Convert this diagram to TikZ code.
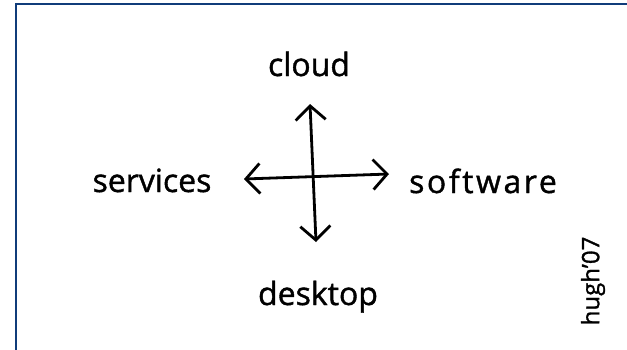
\documentclass[tikz,border=0pt]{standalone}
\usepackage{fontspec}
\setmainfont{Open Sans}[FakeBold=1.2]
\usetikzlibrary{arrows.meta}
\definecolor{framenavy}{RGB}{16,60,122}
\tikzset{
  word/.style={inner sep=0pt, anchor=base, font=\fontsize{32}{36}\selectfont},
  sig/.style={inner sep=0pt, rotate=90, font=\fontsize{24}{28}\selectfont},
  axis/.style={line width=2.8pt, line cap=round,
    {Straight Barb[length=14pt,width=30pt]}-{Straight Barb[length=14pt,width=30pt]}},
  frame/.style={draw=framenavy, line width=2.6pt}
}
\begin{document}
\begin{tikzpicture}[x=1pt,y=-1pt]
  % canvas
  \fill[white] (0,0) rectangle (627,349);
  \useasboundingbox (0,0) rectangle (627,349);
  % frame, only the left and top edges show
  \draw[frame] (16,351) -- (16,4) -- (629,4);

  % labels
  \node[word] (cloud)    at (309,76)  {cloud};
  \node[word] (services) at (152,192) {services};
  \node[word] (software) at (483,193) {\addfontfeature{LetterSpace=8}software};
  \node[word] (desktop)  at (318,305) {desktop};

  % axis end points
  \coordinate (up)    at (310,104);
  \coordinate (down)  at (316,242);
  \coordinate (left)  at (244,179);
  \coordinate (right) at (389,174);

  \draw[axis] (down) -- (up);
  \draw[axis] (left) -- (right);

  % signature
  \node[sig] (signature) at (593,281) {hugh'07};
\end{tikzpicture}
\end{document}
